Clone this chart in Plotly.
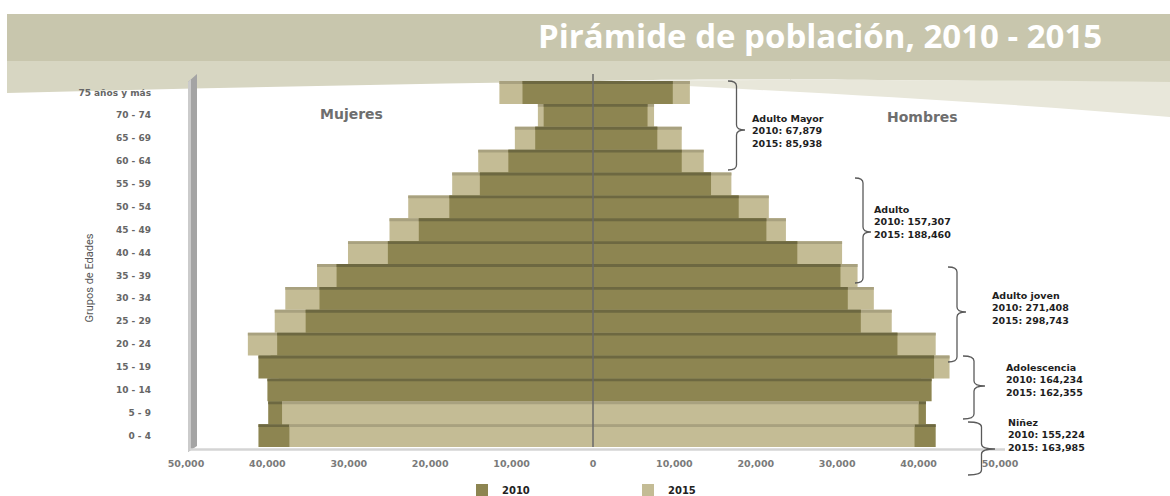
import plotly.graph_objects as go

# ---------------- data ----------------
age_groups = ["0 - 4", "5 - 9", "10 - 14", "15 - 19", "20 - 24", "25 - 29", "30 - 34",
              "35 - 39", "40 - 44", "45 - 49", "50 - 54", "55 - 59", "60 - 64",
              "65 - 69", "70 - 74", "75 años y más"]

mujeres_2010 = [37300, 38200, 40000, 41100, 38800, 35300, 33600, 31500,
                25200, 21400, 17650, 13900, 10400, 7100, 6060, 8660]
mujeres_2015 = [41100, 39900, 38600, 39600, 42400, 39100, 37800, 33900,
                30100, 25000, 22700, 17300, 14100, 9600, 6770, 11500]
hombres_2010 = [39500, 40000, 41600, 41900, 37400, 32900, 31300, 30400,
                25100, 21300, 17900, 14500, 10900, 7900, 6700, 9800]
hombres_2015 = [42100, 40900, 40300, 43800, 42100, 36700, 34500, 32500,
                30600, 23700, 21600, 17000, 13600, 10900, 7500, 11900]

x_tick_values = [-50000, -40000, -30000, -20000, -10000, 0, 10000, 20000, 30000, 40000, 50000]
x_tick_labels = ["50,000", "40,000", "30,000", "20,000", "10,000", "0",
                 "10,000", "20,000", "30,000", "40,000", "50,000"]

group_names = ["Adulto Mayor", "Adulto", "Adulto joven", "Adolescencia", "Niñez"]
group_2010 = ["67,879", "157,307", "271,408", "164,234", "155,224"]
group_2015 = ["85,938", "188,460", "298,743", "162,355", "163,985"]

# rows whose colours appear swapped in the original chart
swapped_rows = ["0 - 4", "5 - 9"]

# ---------------- style ----------------
DARK, DARK_TOP = "#8d8551", "#6d6841"
LIGHT, LIGHT_TOP = "#c4bc95", "#a8a17f"

W, H = 1170, 540          # page window is 496 tall; extra room keeps legend from pushing margins
L, R, T, B = 186, 1000, 81, 447


def fx(px):
    return (px - L) / (R - L)


def fy(py):
    return (B - py) / (B - T)


order = list(reversed(range(len(age_groups))))


def build(women, men, base, top, alt, alt_top):
    ys = [age_groups[i] for i in order] * 2
    xs = [-women[i] for i in order] + [men[i] for i in order]
    cols = [(alt if age_groups[i] in swapped_rows else base) for i in order] * 2
    tops = [(alt_top if age_groups[i] in swapped_rows else top) for i in order] * 2
    return xs, ys, cols, tops


fig = go.Figure()

x15, y15, c15, t15 = build(mujeres_2015, hombres_2015, LIGHT, LIGHT_TOP, DARK, DARK_TOP)
x10, y10, c10, t10 = build(mujeres_2010, hombres_2010, DARK, DARK_TOP, LIGHT, LIGHT_TOP)

fig.add_trace(go.Bar(x=x15, y=y15, orientation="h", width=1.0, name="2015",
                     marker=dict(color=c15, line=dict(width=0)), legendrank=2,
                     hoverinfo="skip"))
fig.add_trace(go.Bar(x=x15, y=y15, orientation="h", width=0.13, offset=0.37,
                     marker=dict(color=t15, line=dict(width=0)), showlegend=False,
                     hoverinfo="skip"))
fig.add_trace(go.Bar(x=x10, y=y10, orientation="h", width=1.0, name="2010",
                     marker=dict(color=c10, line=dict(width=0)), legendrank=1,
                     hoverinfo="skip"))
fig.add_trace(go.Bar(x=x10, y=y10, orientation="h", width=0.13, offset=0.37,
                     marker=dict(color=t10, line=dict(width=0)), showlegend=False,
                     hoverinfo="skip"))


# ---------------- decorative shapes ----------------
def seg(pts, close=True):
    s = ""
    for cmd, coords in pts:
        s += cmd + " ".join(f"{fx(a):.5f},{fy(b):.5f}" for a, b in coords) + " "
    return s + ("Z" if close else "")


shapes = []
# banner
shapes.append(dict(type="rect", xref="paper", yref="paper", x0=fx(7), x1=fx(1170),
                   y0=fy(14), y1=fy(63), fillcolor="#c8c6ad", line=dict(width=0), layer="below"))
shapes.append(dict(type="path", xref="paper", yref="paper", layer="below",
                   path=seg([("M", [(7, 61)]), ("L", [(1170, 61)]), ("L", [(1170, 83)]),
                             ("C", [(900, 80), (700, 78), (600, 81)]),
                             ("C", [(400, 84), (200, 88), (7, 93)])]),
                   fillcolor="#d7d6c2", line=dict(width=0)))
shapes.append(dict(type="path", xref="paper", yref="paper", layer="below",
                   path=seg([("M", [(590, 81)]), ("C", [(800, 79), (1000, 80), (1170, 82)]),
                             ("L", [(1170, 117)]),
                             ("C", [(1000, 102), (800, 92), (590, 81)])]),
                   fillcolor="#e8e7da", line=dict(width=0)))
# 3D wall and floor
shapes.append(dict(type="path", xref="paper", yref="paper", layer="above",
                   path=seg([("M", [(188, 82)]), ("L", [(197, 74)]), ("L", [(197, 446)]),
                             ("L", [(188, 452)])]),
                   fillcolor="#a4a4a4", line=dict(width=0)))
shapes.append(dict(type="path", xref="paper", yref="paper", layer="above",
                   path=seg([("M", [(188, 82)]), ("L", [(191, 79)]), ("L", [(191, 450)]),
                             ("L", [(188, 452)])]),
                   fillcolor="#cbcbcb", line=dict(width=0)))
shapes.append(dict(type="line", xref="paper", yref="paper", x0=fx(190), x1=fx(1005),
                   y0=fy(449.5), y1=fy(449.5), line=dict(color="#d4d4d4", width=2.5)))
# zero line
shapes.append(dict(type="line", xref="x", yref="paper", x0=0, x1=0, y0=fy(447), y1=fy(74),
                   line=dict(color="#6a6a6a", width=1.5), layer="above"))

# braces
brace_boxes = [(728, 745, 81, 170, 130), (855, 871, 178, 283, 232), (948, 966, 267, 362, 312),
               (963, 985, 356, 419, 386), (968, 995, 422, 475, 449)]
for xl, xr, yt, yb, ym in brace_boxes:
    x1 = xl + 0.5 * (xr - xl)
    r = 5
    p = seg([("M", [(xl, yt)]), ("Q", [(x1, yt), (x1, yt + r)]), ("L", [(x1, ym - r)]),
             ("Q", [(x1, ym), (xr, ym)]), ("Q", [(x1, ym), (x1, ym + r)]),
             ("L", [(x1, yb - r)]), ("Q", [(x1, yb), (xl, yb)])], close=False)
    shapes.append(dict(type="path", xref="paper", yref="paper", path=p,
                       line=dict(color="#5a5a5a", width=1.3)))

# ---------------- annotations ----------------
ann = []
ann.append(dict(text="<b>Pirámide de población, 2010 - 2015</b>", x=fx(1104), y=fy(36),
                xref="paper", yref="paper", xanchor="right", yanchor="middle", showarrow=False,
                font=dict(family="Open Sans", size=33, color="white")))
ann.append(dict(text="<b>Mujeres</b>", x=fx(318), y=fy(104), xref="paper", yref="paper",
                showarrow=False, font=dict(family="DejaVu Sans", size=14, color="#6e6e6e")))
ann.append(dict(text="<b>Hombres</b>", x=fx(960), y=fy(107), xref="paper", yref="paper",
                showarrow=False, font=dict(family="DejaVu Sans", size=14, color="#6e6e6e")))
ann.append(dict(text="Grupos de Edades", x=fx(80), y=fy(278), xref="paper", yref="paper",
                textangle=-90, showarrow=False,
                font=dict(family="Roboto", size=11, color="#555555")))

text_pos = [(750, 131), (872, 222), (990, 308), (1004, 380), (1006, 435)]
for (tx, ty), name, v10, v15 in zip(text_pos, group_names, group_2010, group_2015):
    ann.append(dict(text=f"<b>{name}<br>2010: {v10}<br>2015: {v15}</b>", x=fx(tx), y=fy(ty),
                    xref="paper", yref="paper", xanchor="left", yanchor="middle", align="left",
                    showarrow=False, font=dict(family="DejaVu Sans", size=9.5, color="#1e1e1e")))

fig.update_layout(
    width=W, height=H,
    margin=dict(l=L, r=W - R, t=T, b=H - B, pad=0),
    barmode="overlay",
    paper_bgcolor="white", plot_bgcolor="white",
    shapes=shapes, annotations=ann,
    showlegend=True,
    legend=dict(orientation="h", x=fx(462), y=fy(490), xanchor="left", yanchor="middle",
                entrywidth=121, bgcolor="rgba(0,0,0,0)",
                font=dict(family="DejaVu Sans", size=10, color="#222222", weight="bold")),
    xaxis=dict(range=[-50000, 50000], tickvals=x_tick_values, ticktext=x_tick_labels,
               showgrid=False, zeroline=False, showline=False, ticks="",
               ticklabelstandoff=9,
               tickfont=dict(family="DejaVu Sans", size=9.5, color="#7a7a7a", weight="bold")),
    yaxis=dict(type="category", categoryorder="array", categoryarray=age_groups,
               range=[-0.5, len(age_groups) - 0.5], showgrid=False, zeroline=False,
               showline=False, ticks="", ticklabelstandoff=34,
               tickfont=dict(family="DejaVu Sans", size=9, color="#666666", weight="bold")),
)

fig.write_html("out.html", config={"displayModeBar": False},
               post_script="document.body.style.margin='0px';document.body.style.overflow='hidden';")
